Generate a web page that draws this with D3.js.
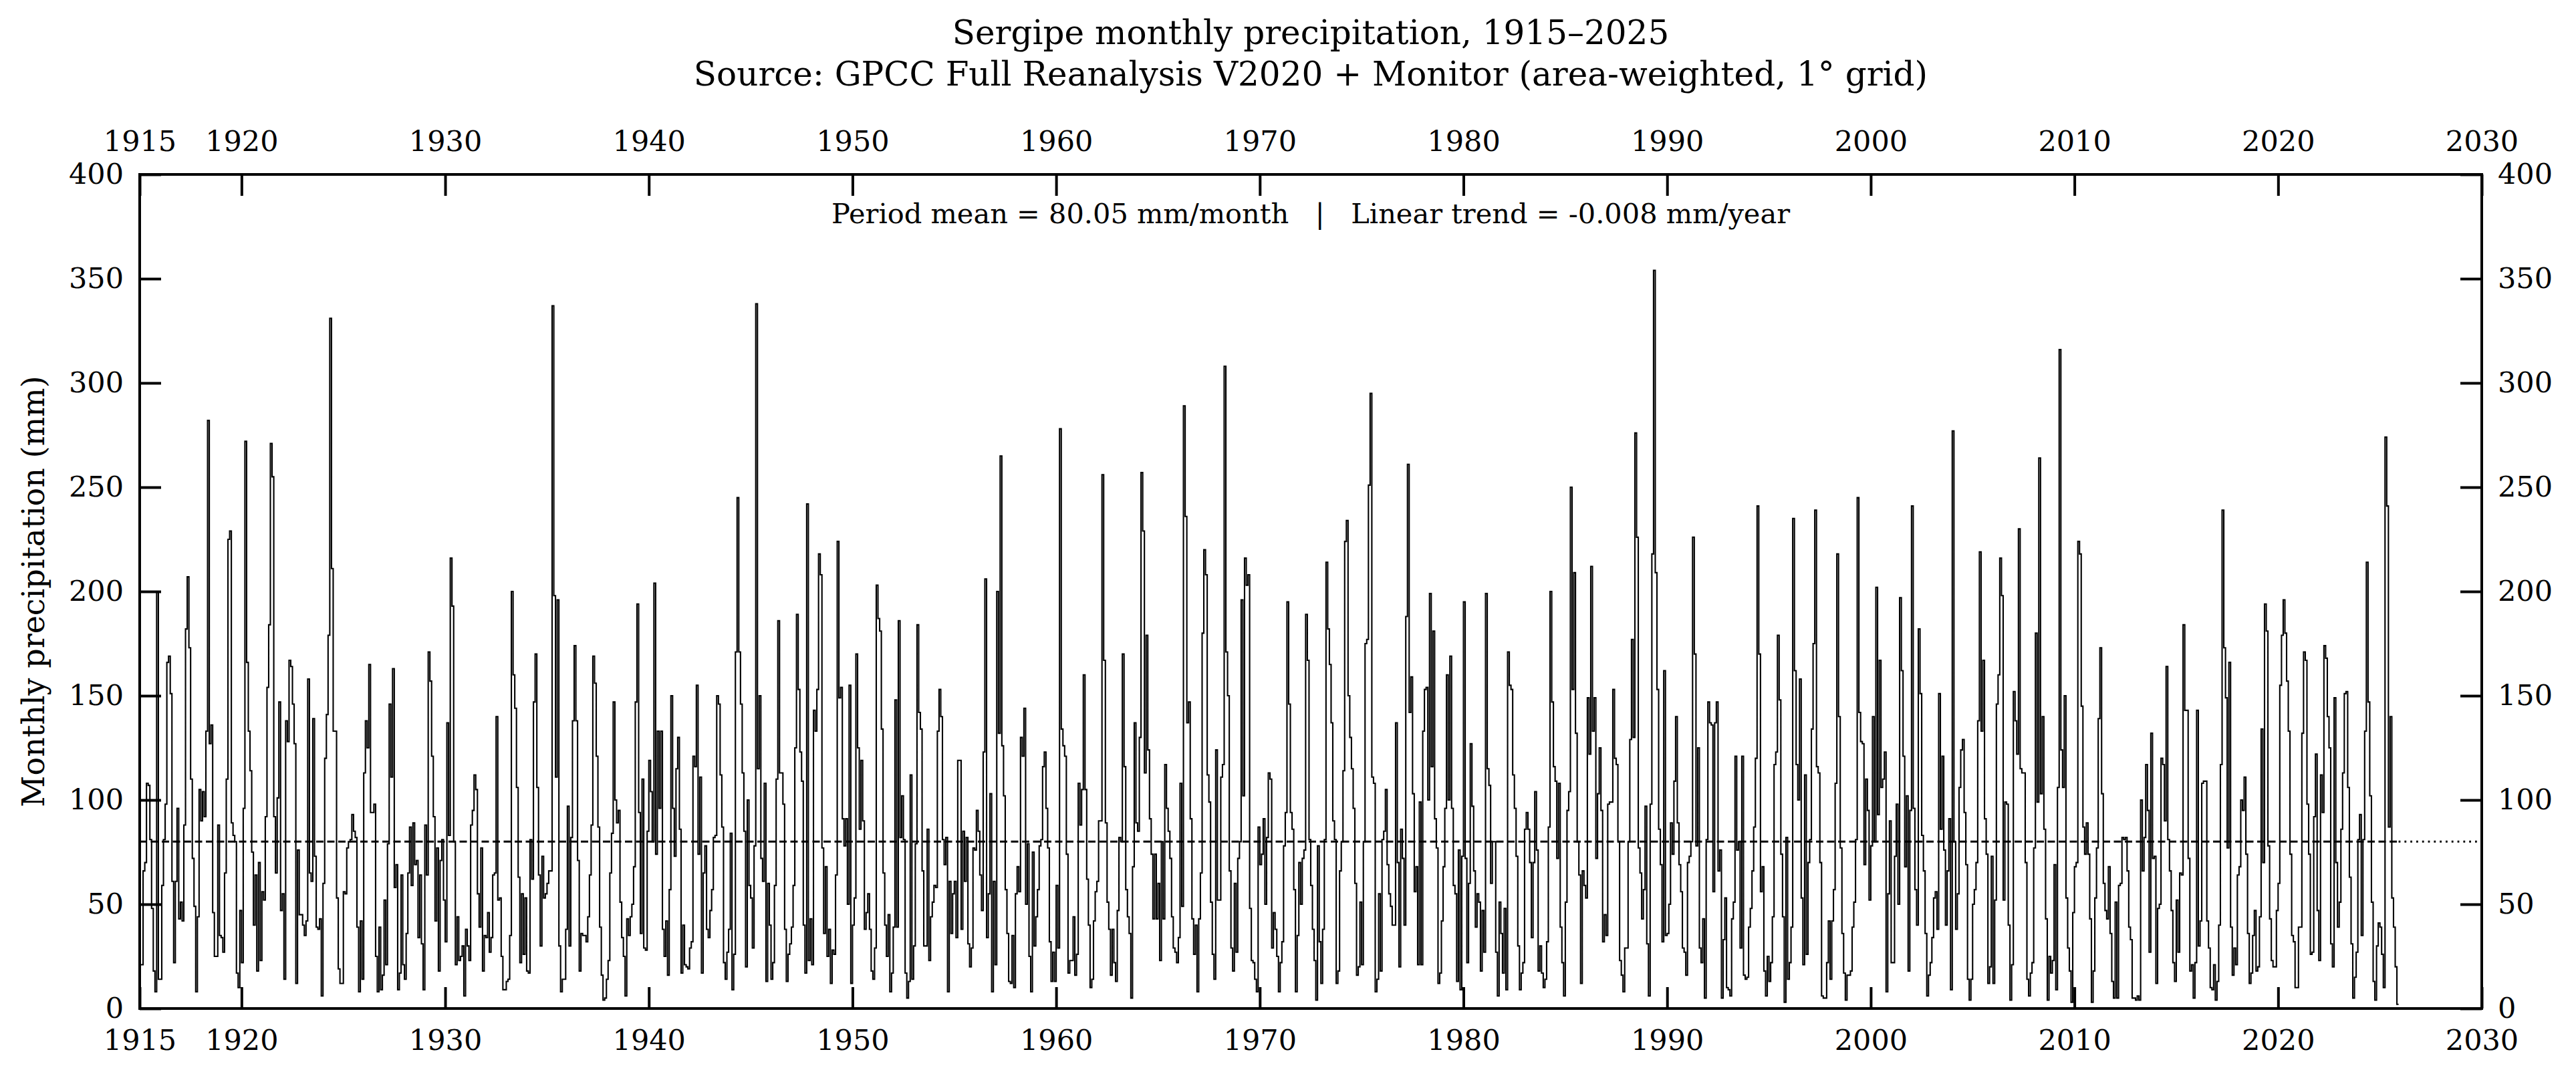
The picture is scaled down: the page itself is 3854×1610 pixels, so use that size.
<!DOCTYPE html>
<html><head><meta charset="utf-8">
<script src="https://cdn.jsdelivr.net/npm/d3@7"></script>
<style>
html,body{margin:0;padding:0;background:#fff;}
svg{display:block;}
text{font-family:"DejaVu Serif",serif;fill:#000;}
</style></head><body>
<svg id="chart" width="3854" height="1610"></svg>
<script>
// ---- texts ----
const titleLines = ["Sergipe monthly precipitation, 1915\u20132025",
  "Source: GPCC Full Reanalysis V2020 + Monitor (area-weighted, 1\u00b0 grid)"];
const annotation = "Period mean = 80.05 mm/month   |   Linear trend = -0.008 mm/year";
const yLabel = "Monthly precipitation (mm)";
const xTicks = [1915, 1920, 1930, 1940, 1950, 1960, 1970, 1980, 1990, 2000, 2010, 2020, 2030];
const yTicks = [0, 50, 100, 150, 200, 250, 300, 350, 400];
const meanValue = 80.05;
const startYear = 1915;

// ---- monthly precipitation (mm), one row per year, Jan..Dec ----
const rain1910s = [
  [21, 21, 66, 70, 108, 107, 81, 48, 18, 8, 200, 14],
  [14, 59, 81, 98, 166, 169, 151, 61, 22, 61, 96, 43],
  [51, 42, 88, 182, 207, 173, 110, 72, 49, 8, 44, 105],
  [90, 104, 92, 133, 282, 127, 136, 46, 25, 25, 88, 35],
  [34, 27, 65, 110, 225, 229, 89, 83, 80, 17, 10, 47]
];
const rain1920s = [
  [22, 96, 272, 166, 133, 114, 75, 40, 64, 18, 70, 23],
  [56, 52, 92, 154, 184, 271, 255, 92, 65, 101, 147, 47],
  [55, 14, 138, 128, 167, 164, 146, 127, 12, 76, 45, 45],
  [40, 35, 42, 158, 65, 61, 139, 73, 39, 38, 43, 6],
  [60, 120, 141, 179, 331, 211, 133, 133, 53, 19, 12, 12],
  [56, 55, 77, 80, 81, 93, 85, 82, 39, 8, 42, 14],
  [113, 138, 125, 165, 94, 94, 98, 25, 8, 39, 9, 16],
  [52, 21, 79, 146, 111, 163, 58, 69, 9, 17, 64, 21],
  [14, 36, 65, 87, 59, 89, 69, 71, 34, 64, 31, 9],
  [88, 64, 171, 157, 121, 92, 42, 77, 18, 71, 81, 52]
];
const rain1930s = [
  [32, 137, 83, 216, 193, 80, 21, 44, 23, 25, 30, 6],
  [38, 30, 23, 88, 95, 112, 105, 55, 39, 77, 18, 35],
  [34, 46, 27, 34, 64, 65, 140, 52, 53, 25, 9, 9],
  [13, 14, 35, 200, 160, 144, 106, 63, 22, 55, 26, 53],
  [18, 17, 81, 62, 147, 170, 106, 64, 30, 73, 53, 55],
  [60, 66, 66, 337, 198, 111, 196, 30, 8, 14, 14, 38],
  [97, 30, 82, 138, 174, 138, 71, 18, 36, 35, 35, 32],
  [44, 64, 88, 169, 156, 121, 87, 39, 16, 4, 5, 14],
  [23, 65, 84, 147, 100, 89, 95, 51, 34, 25, 6, 43],
  [35, 44, 50, 68, 147, 194, 94, 36, 110, 29, 28, 85]
];
const rain1940s = [
  [119, 104, 80, 204, 74, 133, 96, 133, 38, 25, 42, 16],
  [57, 150, 96, 73, 115, 130, 86, 17, 40, 21, 20, 19],
  [29, 32, 121, 116, 155, 74, 111, 17, 65, 78, 38, 34],
  [47, 57, 82, 83, 150, 146, 112, 87, 22, 14, 27, 38],
  [84, 9, 26, 171, 245, 171, 146, 113, 85, 20, 100, 59],
  [53, 29, 78, 338, 115, 150, 72, 61, 108, 13, 60, 40],
  [14, 22, 59, 110, 186, 113, 113, 98, 38, 13, 26, 31],
  [39, 59, 125, 189, 153, 123, 109, 40, 17, 242, 23, 43],
  [21, 143, 133, 153, 218, 208, 77, 36, 68, 25, 38, 12],
  [28, 26, 64, 224, 149, 154, 91, 78, 91, 50, 155, 12]
];
const rain1950s = [
  [40, 53, 170, 125, 86, 119, 90, 38, 46, 55, 38, 18],
  [14, 29, 203, 187, 181, 134, 65, 40, 25, 45, 8, 17],
  [39, 148, 39, 186, 82, 102, 81, 17, 5, 13, 112, 14],
  [30, 79, 184, 142, 134, 66, 30, 30, 86, 23, 44, 51],
  [59, 58, 133, 153, 140, 81, 69, 82, 8, 61, 36, 55],
  [61, 34, 119, 119, 38, 85, 61, 82, 31, 20, 29, 77],
  [76, 95, 85, 64, 47, 123, 206, 34, 55, 103, 8, 61],
  [21, 200, 132, 265, 126, 102, 57, 36, 13, 12, 35, 10],
  [55, 68, 56, 130, 121, 144, 50, 79, 25, 8, 75, 30],
  [44, 57, 78, 81, 116, 123, 96, 77, 32, 13, 27, 13]
];
const rain1960s = [
  [59, 29, 278, 134, 126, 121, 74, 17, 23, 23, 44, 16],
  [26, 108, 88, 105, 160, 105, 62, 40, 10, 14, 42, 56],
  [61, 90, 90, 256, 167, 89, 51, 38, 16, 38, 22, 13],
  [47, 82, 80, 170, 116, 57, 44, 36, 5, 68, 137, 89],
  [85, 130, 257, 229, 113, 179, 124, 91, 74, 43, 74, 43],
  [60, 23, 80, 43, 117, 96, 85, 72, 44, 29, 27, 22],
  [34, 108, 49, 289, 236, 137, 147, 91, 43, 26, 40, 8],
  [43, 65, 180, 220, 208, 112, 99, 51, 26, 14, 124, 52],
  [52, 111, 117, 308, 171, 150, 66, 29, 18, 60, 27, 72],
  [80, 196, 102, 216, 203, 208, 48, 23, 22, 14, 8, 87]
];
const rain1970s = [
  [69, 74, 91, 50, 82, 113, 110, 29, 46, 38, 25, 8],
  [22, 32, 78, 94, 195, 146, 94, 86, 57, 8, 35, 70],
  [50, 72, 76, 189, 167, 81, 59, 38, 23, 4, 78, 32],
  [12, 38, 81, 214, 182, 165, 137, 90, 81, 12, 18, 66],
  [80, 114, 224, 234, 150, 130, 115, 96, 60, 16, 20, 51],
  [21, 80, 175, 177, 251, 295, 111, 108, 8, 14, 55, 18],
  [81, 85, 105, 69, 55, 49, 40, 40, 137, 70, 20, 86],
  [72, 40, 188, 261, 142, 159, 103, 56, 68, 21, 99, 21],
  [133, 153, 154, 100, 199, 116, 181, 91, 77, 12, 17, 42],
  [68, 96, 160, 100, 169, 96, 59, 55, 13, 76, 9, 73]
];
const rain1980s = [
  [195, 72, 22, 60, 127, 97, 66, 39, 55, 51, 18, 47],
  [27, 199, 115, 107, 60, 80, 80, 27, 6, 51, 36, 17],
  [48, 9, 171, 155, 153, 112, 96, 73, 30, 9, 17, 22],
  [86, 94, 86, 70, 34, 70, 104, 76, 18, 30, 17, 10],
  [14, 32, 87, 200, 147, 116, 109, 72, 108, 39, 22, 6],
  [51, 95, 104, 250, 153, 209, 132, 80, 64, 12, 66, 59],
  [53, 149, 122, 212, 133, 149, 72, 103, 125, 95, 32, 45],
  [35, 98, 99, 99, 153, 120, 117, 80, 23, 16, 8, 29],
  [29, 80, 129, 177, 130, 276, 226, 77, 65, 43, 57, 97],
  [31, 6, 98, 218, 354, 209, 153, 86, 69, 32, 162, 35]
];
const rain1990s = [
  [36, 50, 89, 74, 109, 140, 89, 69, 56, 29, 27, 16],
  [70, 73, 80, 226, 170, 78, 125, 29, 22, 43, 5, 81],
  [147, 137, 136, 56, 137, 147, 66, 76, 5, 33, 53, 10],
  [9, 6, 43, 51, 121, 76, 80, 29, 121, 16, 14, 15],
  [39, 48, 66, 87, 120, 241, 170, 56, 68, 18, 6, 25],
  [13, 22, 44, 117, 123, 179, 148, 74, 44, 3, 82, 14],
  [22, 39, 235, 162, 117, 100, 158, 53, 21, 112, 26, 70],
  [81, 134, 175, 239, 116, 113, 70, 6, 5, 5, 22, 42],
  [14, 42, 57, 108, 218, 140, 77, 36, 17, 4, 16, 16],
  [18, 39, 51, 81, 245, 142, 128, 127, 69, 110, 95, 52]
];
const rain2000s = [
  [78, 140, 80, 202, 93, 167, 106, 110, 123, 8, 55, 90],
  [22, 22, 73, 98, 50, 197, 162, 121, 68, 102, 18, 95],
  [241, 96, 57, 40, 182, 151, 83, 66, 36, 6, 16, 22],
  [34, 53, 56, 38, 151, 86, 121, 76, 40, 66, 91, 9],
  [277, 80, 38, 55, 106, 124, 129, 94, 69, 14, 4, 14],
  [50, 57, 70, 138, 219, 133, 167, 91, 74, 12, 20, 73],
  [12, 52, 146, 160, 216, 198, 52, 99, 98, 40, 4, 21],
  [152, 138, 122, 230, 115, 113, 113, 70, 14, 6, 17, 22],
  [77, 180, 99, 264, 103, 140, 86, 43, 4, 25, 17, 23],
  [69, 9, 106, 316, 124, 106, 150, 53, 29, 18, 3, 46]
];
const rain2010s = [
  [68, 70, 224, 218, 145, 87, 74, 89, 74, 43, 3, 18],
  [53, 77, 139, 173, 103, 60, 47, 43, 68, 36, 13, 5],
  [51, 5, 59, 60, 82, 81, 82, 66, 39, 33, 5, 5],
  [4, 6, 4, 100, 66, 82, 117, 95, 27, 132, 72, 73],
  [12, 48, 50, 120, 117, 90, 164, 81, 66, 47, 22, 13],
  [52, 27, 65, 64, 184, 143, 143, 72, 18, 21, 5, 22],
  [143, 30, 42, 108, 109, 109, 42, 29, 10, 9, 21, 4],
  [13, 40, 117, 239, 173, 149, 77, 166, 39, 16, 29, 21],
  [64, 68, 100, 95, 111, 74, 36, 12, 17, 35, 47, 18],
  [20, 44, 134, 70, 194, 181, 78, 43, 23, 20, 20, 47]
];
const rain2020s = [
  [60, 155, 179, 196, 180, 157, 133, 74, 35, 32, 10, 10],
  [39, 39, 132, 171, 167, 98, 74, 26, 27, 92, 122, 47],
  [23, 112, 94, 174, 168, 140, 125, 31, 20, 149, 70, 39],
  [51, 86, 113, 151, 152, 106, 63, 31, 5, 15, 27, 81],
  [93, 35, 81, 133, 214, 147, 102, 51, 13, 4, 30, 41],
  [39, 26, 10, 274, 241, 87, 140, 53, 39, 20, 2]
];

// ---- build series ----
const yearRows = [].concat(rain1910s, rain1920s, rain1930s, rain1940s, rain1950s,
  rain1960s, rain1970s, rain1980s, rain1990s, rain2000s, rain2010s, rain2020s);
const monthly = yearRows.flat();
const series = monthly.map((v, i) => ({t: startYear + i / 12, v: v}));
const endT = startYear + monthly.length / 12;
series.push({t: endT, v: monthly[monthly.length - 1]});

// ---- layout ----
const W = 3854, H = 1610;
const M = {left: 209, right: 3713, top: 261, bottom: 1509};
const x = d3.scaleLinear().domain([1915, 2030]).range([M.left, M.right]);
const y = d3.scaleLinear().domain([0, 400]).range([M.bottom, M.top]);

const svg = d3.select("#chart");
svg.append("rect").attr("width", W).attr("height", H).attr("fill", "#fff");

// data step line
const line = d3.line().x(d => x(d.t)).y(d => y(d.v)).curve(d3.curveStepAfter);
svg.append("path").datum(series)
  .attr("d", line).attr("fill", "none")
  .attr("stroke", "#000").attr("stroke-width", 2.1)
  .attr("stroke-linejoin", "miter");

// mean lines
svg.append("line")
  .attr("x1", x(startYear)).attr("x2", x(endT))
  .attr("y1", y(meanValue)).attr("y2", y(meanValue))
  .attr("stroke", "#000").attr("stroke-width", 3.2)
  .attr("stroke-dasharray", "11,5.5");
svg.append("line")
  .attr("x1", x(endT)).attr("x2", x(2030))
  .attr("y1", y(meanValue)).attr("y2", y(meanValue))
  .attr("stroke", "#000").attr("stroke-width", 3.2)
  .attr("stroke-dasharray", "2.8,6");

// axes
const tickLen = 32, tickW = 4, fs = 43;
function styleAxis(g) {
  g.select(".domain").remove();
  g.selectAll(".tick line").attr("stroke", "#000").attr("stroke-width", tickW);
  g.selectAll(".tick text").attr("font-family", "DejaVu Serif").attr("font-size", fs).attr("fill", "#000");
}
svg.append("g").attr("transform", `translate(0,${M.bottom})`)
  .call(d3.axisBottom(x).tickValues(xTicks).tickFormat(d3.format("d")).tickSize(-tickLen).tickPadding(31))
  .call(styleAxis);
svg.append("g").attr("transform", `translate(0,${M.top})`)
  .call(d3.axisTop(x).tickValues(xTicks).tickFormat(d3.format("d")).tickSize(-tickLen).tickPadding(35))
  .call(styleAxis);
svg.append("g").attr("transform", `translate(${M.left},0)`)
  .call(d3.axisLeft(y).tickValues(yTicks).tickFormat(d3.format("d")).tickSize(-tickLen).tickPadding(24))
  .call(styleAxis);
svg.append("g").attr("transform", `translate(${M.right},0)`)
  .call(d3.axisRight(y).tickValues(yTicks).tickFormat(d3.format("d")).tickSize(-tickLen).tickPadding(24))
  .call(styleAxis);

// frame
svg.append("rect")
  .attr("x", M.left).attr("y", M.top)
  .attr("width", M.right - M.left).attr("height", M.bottom - M.top)
  .attr("fill", "none").attr("stroke", "#000").attr("stroke-width", 4);

// texts
const cx = (M.left + M.right) / 2;
svg.append("text").attr("x", cx).attr("y", 66).attr("text-anchor", "middle")
  .attr("font-size", 50).text(titleLines[0]);
svg.append("text").attr("x", cx).attr("y", 128).attr("text-anchor", "middle")
  .attr("font-size", 50).text(titleLines[1]);
svg.append("text").attr("x", cx).attr("y", 334).attr("text-anchor", "middle")
  .attr("font-size", 41.5).style("white-space", "pre").text(annotation);
svg.append("text")
  .attr("transform", `translate(66,${(M.top + M.bottom) / 2}) rotate(-90)`)
  .attr("text-anchor", "middle").attr("font-size", 46).text(yLabel);
</script>
</body></html>
